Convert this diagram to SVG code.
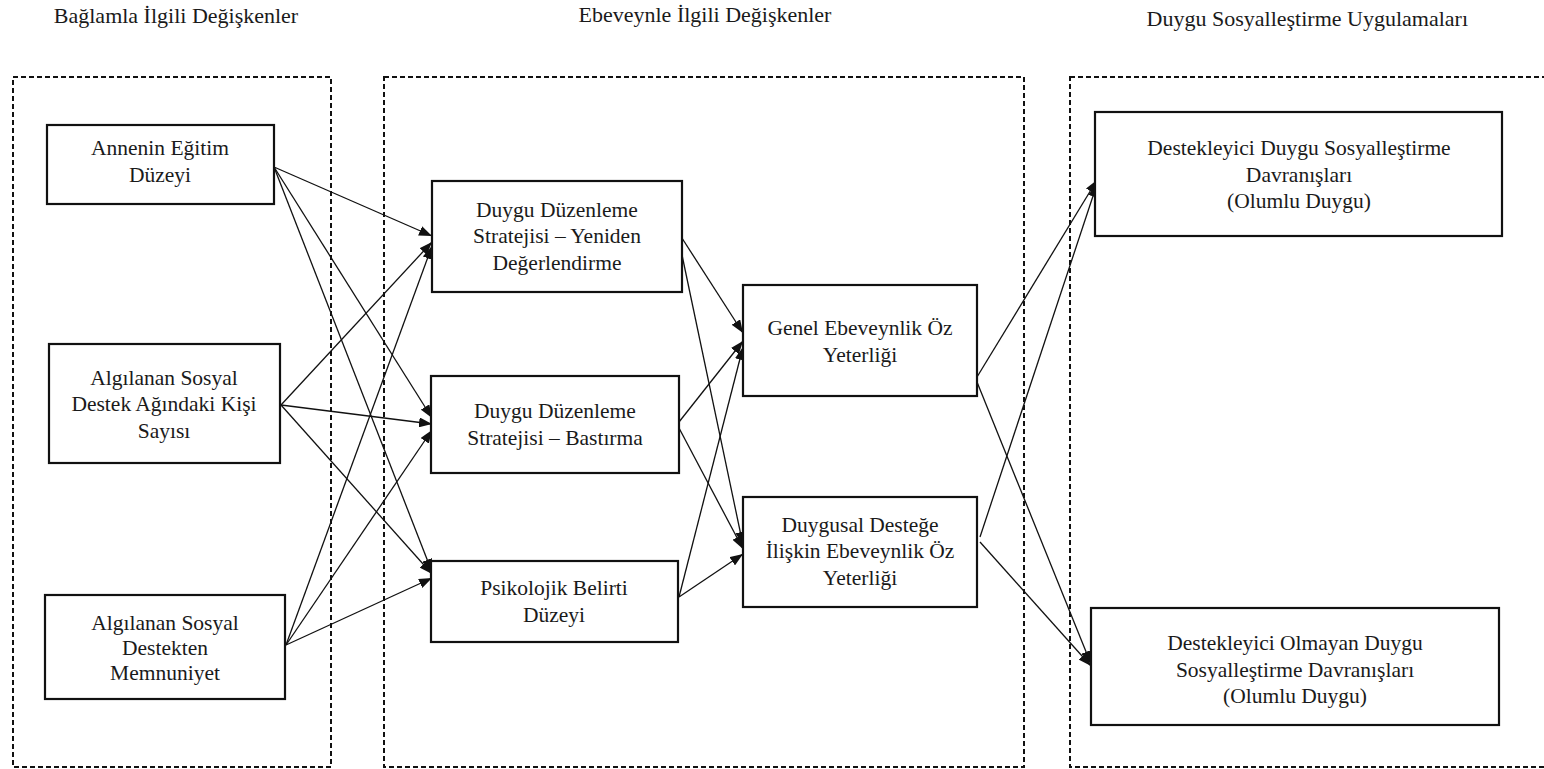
<svg xmlns="http://www.w3.org/2000/svg" width="1544" height="769" viewBox="0 0 1544 769">
<style>
text{font-family:"Liberation Serif","Times New Roman",serif;font-size:21.5px;fill:#1a1a1a;text-anchor:middle}
.hdr{font-size:22px}
.box{fill:#fff;stroke:#111;stroke-width:2.2}
.grp{fill:none;stroke:#111;stroke-width:2;stroke-dasharray:5 3}
.edge{fill:none;stroke:#111;stroke-width:1.3;marker-end:url(#ah)}
</style>
<defs>
<marker id="ah" markerUnits="userSpaceOnUse" markerWidth="13" markerHeight="10" refX="13" refY="5" orient="auto">
<path d="M0,0 L13,5 L0,10 z" fill="#111"/>
</marker>
</defs>
<rect width="1544" height="769" fill="#fff"/>

<g id="headers">
<text class="hdr" x="176" y="23">Bağlamla İlgili Değişkenler</text>
<text class="hdr" x="705" y="22">Ebeveynle İlgili Değişkenler</text>
<text class="hdr" x="1468" y="26" style="text-anchor:end">Duygu Sosyalleştirme Uygulamaları</text>
</g>

<g id="groups">
<rect id="grp-context" class="grp" x="13" y="77" width="318" height="690"/>
<rect id="grp-parent" class="grp" x="384" y="77" width="640" height="690"/>
<rect id="grp-practice" class="grp" x="1070" y="77" width="500" height="690"/>
</g>

<g id="connectors">
<line class="edge" x1="274" y1="167" x2="432" y2="236"/>
<line class="edge" x1="274" y1="167" x2="432" y2="418"/>
<line class="edge" x1="274" y1="167" x2="432" y2="572"/>
<line class="edge" x1="281" y1="405" x2="432" y2="242"/>
<line class="edge" x1="281" y1="405" x2="432" y2="424"/>
<line class="edge" x1="281" y1="405" x2="432" y2="574"/>
<line class="edge" x1="286" y1="645" x2="432" y2="246"/>
<line class="edge" x1="286" y1="645" x2="432" y2="430"/>
<line class="edge" x1="286" y1="645" x2="432" y2="578"/>
<line class="edge" x1="680" y1="235" x2="743" y2="333"/>
<line class="edge" x1="682" y1="255" x2="743" y2="545"/>
<line class="edge" x1="679" y1="422" x2="743" y2="341"/>
<line class="edge" x1="679" y1="428" x2="743" y2="549"/>
<line class="edge" x1="679" y1="597" x2="743" y2="347"/>
<line class="edge" x1="679" y1="597" x2="743" y2="554"/>
<line class="edge" x1="977" y1="377" x2="1097" y2="180"/>
<line class="edge" x1="977" y1="382" x2="1091" y2="664"/>
<line class="edge" x1="980" y1="537" x2="1097" y2="184"/>
<line class="edge" x1="980" y1="542" x2="1091" y2="666"/>
</g>

<g id="n-annenin">
<rect class="box" x="47" y="125" width="227" height="79"/>
<text x="160" y="155">Annenin Eğitim</text>
<text x="160" y="182">Düzeyi</text>
</g>
<g id="n-sosyal-ag">
<rect class="box" x="49" y="344" width="231" height="119"/>
<text x="164" y="385">Algılanan Sosyal</text>
<text x="164" y="411">Destek Ağındaki Kişi</text>
<text x="164" y="438">Sayısı</text>
</g>
<g id="n-memnuniyet">
<rect class="box" x="45" y="595" width="240" height="104"/>
<text x="165" y="630">Algılanan Sosyal</text>
<text x="165" y="655">Destekten</text>
<text x="165" y="680">Memnuniyet</text>
</g>
<g id="n-yeniden">
<rect class="box" x="432" y="181" width="250" height="111"/>
<text x="557" y="217">Duygu Düzenleme</text>
<text x="557" y="243">Stratejisi – Yeniden</text>
<text x="557" y="270">Değerlendirme</text>
</g>
<g id="n-bastirma">
<rect class="box" x="431" y="376" width="248" height="97"/>
<text x="555" y="418">Duygu Düzenleme</text>
<text x="555" y="445">Stratejisi – Bastırma</text>
</g>
<g id="n-psikolojik">
<rect class="box" x="431" y="561" width="247" height="81"/>
<text x="554" y="595">Psikolojik Belirti</text>
<text x="554" y="622">Düzeyi</text>
</g>
<g id="n-genel">
<rect class="box" x="743" y="285" width="234" height="111"/>
<text x="860" y="335">Genel Ebeveynlik Öz</text>
<text x="860" y="362">Yeterliği</text>
</g>
<g id="n-duygusal">
<rect class="box" x="743" y="497" width="234" height="110"/>
<text x="860" y="532">Duygusal Desteğe</text>
<text x="860" y="558">İlişkin Ebeveynlik Öz</text>
<text x="860" y="585">Yeterliği</text>
</g>
<g id="n-destekleyici">
<rect class="box" x="1095" y="112" width="407" height="124"/>
<text x="1299" y="155">Destekleyici Duygu Sosyalleştirme</text>
<text x="1299" y="182">Davranışları</text>
<text x="1299" y="208">(Olumlu Duygu)</text>
</g>
<g id="n-olmayan">
<rect class="box" x="1091" y="608" width="408" height="117"/>
<text x="1295" y="650">Destekleyici Olmayan Duygu</text>
<text x="1295" y="677">Sosyalleştirme Davranışları</text>
<text x="1295" y="703">(Olumlu Duygu)</text>
</g>
</svg>
